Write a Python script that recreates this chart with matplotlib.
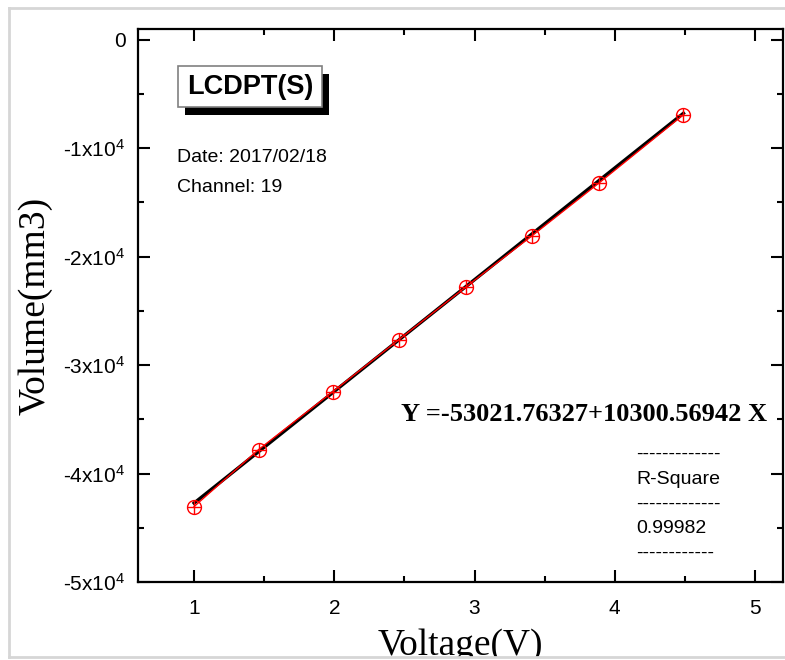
import matplotlib
matplotlib.use("Agg")
import matplotlib.pyplot as plt
from matplotlib.ticker import MultipleLocator, FuncFormatter
from matplotlib.lines import Line2D
from matplotlib.patches import Rectangle

# data
voltage = [1.0, 1.46, 1.99, 2.46, 2.94, 3.41, 3.89, 4.49]
volume = [-43040, -37790, -32440, -27650, -22770, -18070, -13180, -6910]

# linear fit shown on the chart
intercept = -53021.76327
slope = 10300.56942
r_square = "0.99982"

plt.rcParams["font.family"] = ["Liberation Sans", "DejaVu Sans"]
plt.rcParams["mathtext.fontset"] = "custom"
plt.rcParams["mathtext.rm"] = "Liberation Sans"
plt.rcParams["mathtext.it"] = "Liberation Sans"

fig = plt.figure(figsize=(7.85, 6.6), dpi=100)
ax = fig.add_axes([138 / 785, 78 / 660, 645 / 785, 553 / 660])

# fit line (black) and measured data (red)
fit_x = [voltage[0], voltage[-1]]
fit_y = [intercept + slope * v for v in fit_x]
ax.plot(fit_x, fit_y, color="black", lw=2.4, zorder=2)
ax.plot(voltage, volume, color="red", lw=1.0, zorder=3)
ax.plot(voltage, volume, ls="none", marker="o", ms=10, mfc="none",
        mec="red", mew=1.0, zorder=4)
ax.plot(voltage, volume, ls="none", marker="+", ms=10, mec="red",
        mew=1.0, zorder=4)

ax.set_xlim(0.6, 5.2)
ax.set_ylim(-50000, 1000)
ax.xaxis.set_major_locator(MultipleLocator(1))
ax.xaxis.set_minor_locator(MultipleLocator(0.5))
ax.yaxis.set_major_locator(MultipleLocator(10000))
ax.yaxis.set_minor_locator(MultipleLocator(5000))


def fmt_y(v, pos):
    n = int(round(v / 10000))
    if n == 0:
        return "0"
    return r"%dx10$^{4}$" % n


ax.yaxis.set_major_formatter(FuncFormatter(fmt_y))
ax.tick_params(which="both", direction="in", top=True, right=True,
               width=1.5, labelsize=15)
ax.tick_params(which="major", length=8.5)
ax.tick_params(which="minor", length=4.3)
ax.tick_params(axis="x", pad=12)
ax.tick_params(axis="y", pad=9)
for s in ax.spines.values():
    s.set_linewidth(1.6)

ax.set_xlabel("Voltage(V)", family="Liberation Serif", fontsize=27, labelpad=8)
ax.set_ylabel("Volume(mm3)", family="Liberation Serif", fontsize=27, labelpad=8)

# title box with drop shadow
ax.add_patch(Rectangle((0.0729, 0.8445), 0.223, 0.0741, transform=ax.transAxes,
                       fc="black", ec="none", zorder=5))
ax.add_patch(Rectangle((0.062, 0.859), 0.223, 0.0741, transform=ax.transAxes,
                       fc="white", ec="#808080", lw=1.2, zorder=6))
ax.text(0.1736, 0.896, "LCDPT(S)", transform=ax.transAxes, fontsize=19.5,
        fontweight="bold", va="center", ha="center", zorder=7)

ax.text(0.06, 0.768, "Date: 2017/02/18", transform=ax.transAxes, fontsize=14,
        va="center")
ax.text(0.06, 0.714, "Channel: 19", transform=ax.transAxes, fontsize=14,
        va="center")

ax.text(0.975, 0.302, "Y =-53021.76327+10300.56942 X", transform=ax.transAxes,
        family="Liberation Serif", fontweight="bold", fontsize=19,
        ha="right", va="center")

rs_lines = ["-------------", "R-Square", "-------------", r_square, "------------"]
for i, t in enumerate(rs_lines):
    ax.text(0.772, 0.230 - i * 0.0445, t, transform=ax.transAxes, fontsize=14,
            va="center", ha="left")

# light grey page border; the strip below it hides the cut-off label
fig.patches.append(Rectangle((0, 0), 1, 3 / 660, transform=fig.transFigure,
                             fc="white", ec="none", zorder=10))
for xs, ys in [([9, 785], [652, 652]), ([9, 9], [3, 652]), ([9, 785], [3, 3])]:
    fig.lines.append(Line2D([x / 785 for x in xs], [y / 660 for y in ys],
                            transform=fig.transFigure, color="#d6d6d6", lw=2,
                            zorder=11))

fig.savefig("out.png", dpi=100)
